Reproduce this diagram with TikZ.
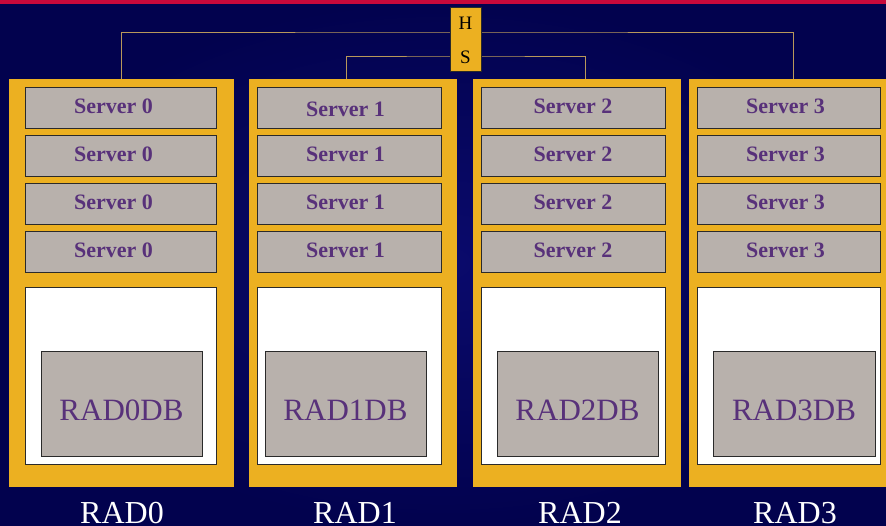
\documentclass[tikz,border=0pt]{standalone}
\usepackage{fontspec}
\setmainfont{Liberation Serif}
\definecolor{navyDark}{HTML}{02024E}
\definecolor{navyLight}{HTML}{0A0A6C}
\definecolor{topred}{HTML}{C8093B}
\definecolor{gold}{HTML}{ECB021}
\definecolor{srvgray}{HTML}{B8B1AC}
\definecolor{txtpurple}{HTML}{58317A}
\definecolor{boxline}{HTML}{2A2A2A}
\definecolor{wirecol}{HTML}{B8985A}
\begin{document}
\begin{tikzpicture}[x=1pt,y=-1pt,
  panel/.style={fill=gold, draw=none, inner sep=0pt},
  srv/.style={draw=boxline, fill=srvgray, line width=0.9pt, inner sep=0pt},
  srvtext/.style={font=\fontsize{22}{24}\selectfont\bfseries, text=txtpurple,
    inner sep=0pt, anchor=base},
  store/.style={draw=boxline, fill=white, line width=0.7pt, inner sep=0pt},
  dbbox/.style={draw=boxline, fill=srvgray, line width=0.8pt, inner sep=0pt},
  dbtext/.style={font=\fontsize{31}{34}\selectfont, text=txtpurple, inner sep=0pt, anchor=base},
  radlabel/.style={font=\fontsize{32}{34}\selectfont, text=white, inner sep=0pt, anchor=base},
  hub/.style={fill=gold, draw=boxline, line width=0.6pt, inner sep=0pt,
    minimum width=31pt, minimum height=64pt},
  hubtext/.style={font=\fontsize{19}{20}\selectfont, text=black, inner sep=0pt, anchor=base},
  wire/.style={draw=wirecol, line width=0.9pt}]

% background and top band
\useasboundingbox (0,0) rectangle (886,526);
\shade[inner color=navyLight, outer color=navyDark] (0,0) rectangle (886,526);
\fill[topred] (0,0) rectangle (886,4);

% cable taps at the tops of the racks
\coordinate (o0) at (121,79);
\coordinate (o3) at (793,79);
\coordinate (i1) at (346,79);
\coordinate (i2) at (585,79);
\coordinate (ob) at (465.5,32);
\coordinate (ib) at (465.5,56);
\draw[wire] (o0) |- (ob) -| (o3);
\draw[wire] (i1) |- (ib) -| (i2);

% hub switch
\node[hub] (hs) at (465.5,39) {};
\node[hubtext] (hsH) at (465.5,30) {H};
\node[hubtext] (hsS) at (465.5,64) {S};

% racks: index / rack x range / server x range / database x range / label x / text shift
\foreach \i/\cl/\cr/\sl/\sr/\dl/\dr/\lx/\tx in
  {0/9/234/25/216/41/202/122/-7,
   1/249/457/257/441/265/426/355/-3.5,
   2/473/681/481/665/497/658/580/0,
   3/689/893/697/880/713/875/795/-3}{
  \pgfmathsetmacro\cw{\cr-\cl}
  \pgfmathsetmacro\cx{(\cl+\cr)/2}
  \pgfmathsetmacro\sw{\sr-\sl}
  \pgfmathsetmacro\sx{(\sl+\sr)/2}
  \pgfmathsetmacro\dw{\dr-\dl}
  \pgfmathsetmacro\dx{(\dl+\dr)/2}
  \node[panel, minimum width=\cw pt, minimum height=408pt] (col\i) at (\cx,283) {};
  \foreach \j in {0,...,3}{
    \node[srv, minimum width=\sw pt, minimum height=41pt] (s\i\j) at (\sx,{107.5+48*\j}) {};
    \pgfmathsetmacro\ty{(\i==1 && \j==0) ? 3 : 0}
    \node[srvtext] (st\i\j) at ([xshift=\tx pt, yshift={-(6+\ty)*1pt}]s\i\j.center) {Server \i};
  }
  \node[store, minimum width=\sw pt, minimum height=177pt] (w\i) at (\sx,375.5) {};
  \node[dbbox, minimum width=\dw pt, minimum height=105pt] (db\i) at (\dx,403.5) {};
  \node[dbtext] (dbt\i) at (\dx,420) {RAD\i DB};
  \node[radlabel] (rad\i) at (\lx,523) {RAD\i};
}
\end{tikzpicture}
\end{document}
